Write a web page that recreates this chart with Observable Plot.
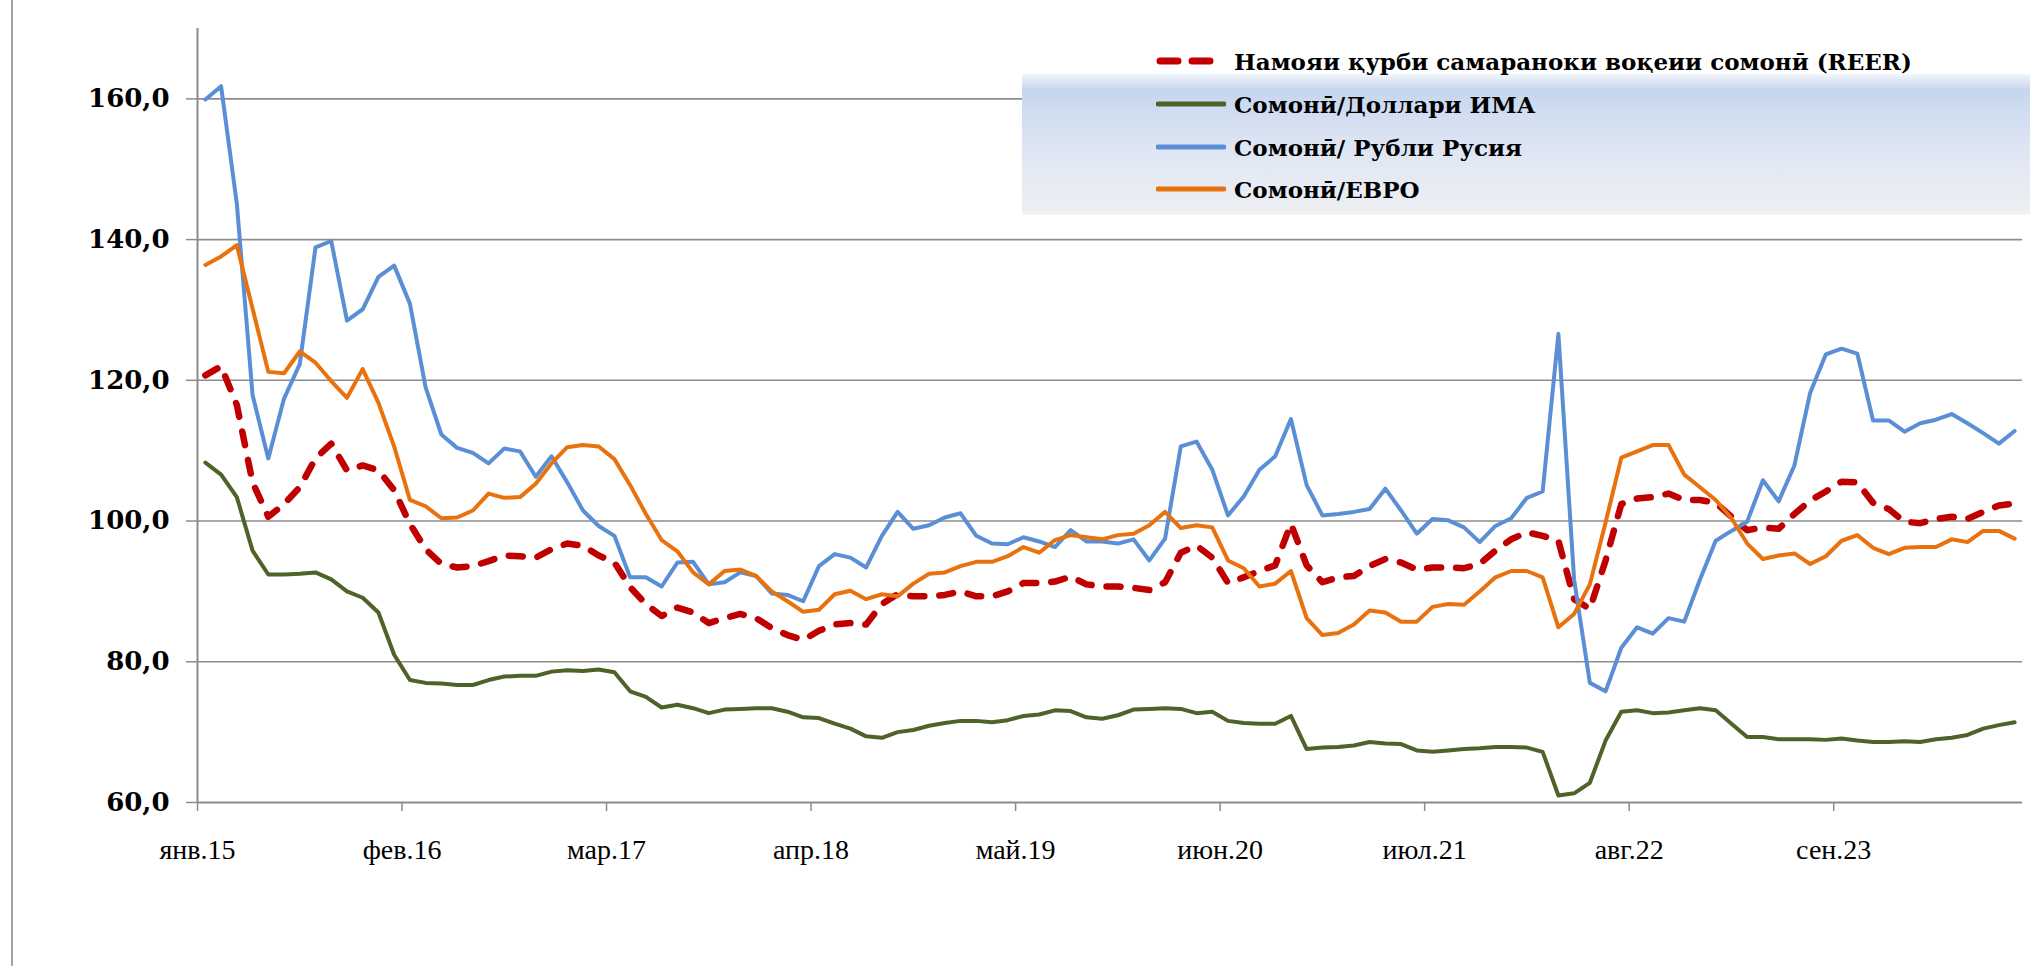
<!DOCTYPE html>
<html>
<head>
<meta charset="utf-8">
<script src="https://cdn.jsdelivr.net/npm/d3@7"></script>
<script src="https://cdn.jsdelivr.net/npm/@observablehq/plot@0.6"></script>
<style>
  html, body { margin: 0; padding: 0; background: #fff; }
  #wrap { position: relative; width: 2034px; height: 966px; overflow: hidden; }
  #border { position: absolute; left: 11px; top: 0; width: 2px; height: 966px; background: #a3a3a3; }
  #legendBox { position: absolute; left: 1022px; top: 74px; width: 1008px; height: 141px;
    background: linear-gradient(to bottom, #f3f6fb 0%, #c6d5ee 11%, #cfdcf1 25%, #dde5f3 50%, #e7ebf3 78%, #eceef2 96%, #f4f5f7 100%); }
  .entry { position: absolute; left: 1156px; height: 30px; display: flex; align-items: center;
    font-family: "DejaVu Serif", serif; font-weight: bold; font-size: 23px; color: #000; white-space: nowrap; }
  .entry svg { margin-right: 8px; }
</style>
</head>
<body>
<div id="wrap">
  <div id="border"></div>
  <div id="chart"></div>
  <div id="legendBox"></div>
  <div id="legend"></div>
</div>
<script>
// ---- data (monthly, Jan 2015 .. Aug 2024) ----
const tickLabels = ["янв.15","фев.16","мар.17","апр.18","май.19","июн.20","июл.21","авг.22","сен.23"];
const tickEvery = 13;
const yTicks = [60, 80, 100, 120, 140, 160];

const seriesNames = [
  "Намояи қурби самараноки воқеии сомонӣ (REER)",
  "Сомонӣ/Доллари ИМА",
  "Сомонӣ/ Рубли Русия",
  "Сомонӣ/ЕВРО"
];

const reer = [
  120.7,122.0,116.5,105.5,100.6,102.4,104.8,108.9,111.0,107.2,107.9,107.2,104.4,99.6,96.0,
  93.9,93.4,93.6,94.3,95.1,95.0,94.8,96.0,96.8,96.5,95.1,94.1,90.6,88.2,86.5,
  87.7,87.0,85.5,86.2,86.8,86.2,84.8,83.8,83.1,84.4,85.3,85.5,85.3,88.2,
  89.6,89.3,89.3,89.5,90.0,89.3,89.3,90.0,91.2,91.2,91.4,92.1,91.0,90.7,90.7,
  90.5,90.2,91.3,95.5,96.5,94.8,91.2,92.0,92.9,93.7,99.6,93.7,91.3,92.0,
  92.2,93.6,94.6,94.1,93.1,93.4,93.4,93.3,93.9,95.8,97.4,98.4,97.9,97.2,
  88.9,87.5,94.4,102.4,103.2,103.4,103.9,103.0,103.0,102.6,100.6,98.7,99.1,98.9,101.0,102.9,
  104.2,105.6,105.5,102.6,101.7,99.9,99.7,100.3,100.6,100.3,101.3,102.2,102.5
];
const usd = [
  108.3,106.6,103.4,95.8,92.4,92.4,92.5,92.7,91.7,90.0,89.1,87.0,81.0,77.4,77.0,
  76.9,76.7,76.7,77.4,77.9,78.0,78.0,78.6,78.8,78.7,78.9,78.5,75.8,75.0,73.5,
  73.9,73.4,72.7,73.2,73.3,73.4,73.4,72.9,72.1,72.0,71.2,70.5,69.4,69.2,
  70.0,70.3,70.9,71.3,71.6,71.6,71.4,71.7,72.3,72.5,73.1,73.0,72.1,71.9,72.4,
  73.2,73.3,73.4,73.3,72.7,72.9,71.6,71.3,71.2,71.2,72.3,67.6,67.8,67.9,
  68.1,68.6,68.4,68.3,67.4,67.2,67.4,67.6,67.7,67.9,67.9,67.8,67.2,61.0,
  61.3,62.8,68.8,72.9,73.1,72.7,72.8,73.1,73.4,73.1,71.2,69.3,69.3,69.0,69.0,69.0,
  68.9,69.1,68.8,68.6,68.6,68.7,68.6,69.0,69.2,69.6,70.5,71.0,71.4
];
const rub = [
  159.9,161.8,145.1,117.9,108.9,117.4,122.3,138.9,139.8,128.5,130.1,134.7,136.3,130.9,119.0,
  112.3,110.4,109.7,108.2,110.3,109.9,106.3,109.2,105.5,101.5,99.3,97.9,92.0,92.0,90.7,
  94.1,94.2,91.0,91.3,92.7,92.2,89.7,89.5,88.6,93.6,95.3,94.8,93.4,97.9,
  101.3,98.9,99.4,100.5,101.1,97.9,96.8,96.7,97.7,97.1,96.3,98.7,97.1,97.1,96.8,
  97.4,94.4,97.5,110.6,111.3,107.3,100.8,103.5,107.3,109.2,114.5,105.1,100.8,101.0,
  101.3,101.7,104.6,101.5,98.2,100.3,100.1,99.1,97.0,99.3,100.4,103.3,104.2,126.6,
  91.7,77.0,75.8,82.0,84.9,84.0,86.2,85.7,91.7,97.2,98.6,99.9,105.8,102.8,107.9,118.2,
  123.7,124.5,123.8,114.3,114.3,112.7,113.9,114.4,115.2,113.9,112.5,111.0,112.8
];
const eur = [
  136.4,137.6,139.2,130.2,121.2,121.0,124.1,122.5,119.9,117.5,121.6,116.8,110.6,103.0,102.1,
  100.4,100.5,101.5,103.9,103.3,103.4,105.3,108.2,110.5,110.8,110.6,108.8,105.1,101.0,97.3,
  95.7,92.7,91.0,92.9,93.1,92.2,90.0,88.6,87.1,87.4,89.6,90.1,88.9,89.6,
  89.3,91.1,92.5,92.7,93.6,94.2,94.2,95.0,96.3,95.5,97.3,98.0,97.7,97.4,98.0,
  98.2,99.4,101.3,99.0,99.4,99.1,94.4,93.3,90.7,91.1,92.9,86.2,83.8,84.1,
  85.3,87.3,87.0,85.7,85.7,87.8,88.2,88.1,90.0,92.0,92.9,92.9,92.0,84.9,
  86.8,91.0,99.8,109.0,109.9,110.8,110.8,106.6,104.8,103.0,100.4,96.8,94.6,95.1,95.4,93.9,
  95.0,97.2,98.0,96.2,95.3,96.2,96.3,96.3,97.4,97.0,98.6,98.6,97.5
];

const colors = ["#C00000", "#4F6228", "#5A8FD6", "#E8720E"];

const n = reer.length;
const rows = (vals, k) => vals.map((v, i) => ({i, v, s: seriesNames[k]}));
const tickPos = tickLabels.map((_, k) => k * tickEvery - 0.5);

const plot = Plot.plot({
  width: 2034,
  height: 966,
  marginLeft: 197,
  marginRight: 12,
  marginTop: 28,
  marginBottom: 164,
  style: {background: "transparent", overflow: "visible"},
  x: {domain: [-0.5, n - 0.5]},
  y: {domain: [60, 170]},
  marks: [
    Plot.ruleY(yTicks.slice(1), {stroke: "#8c8c8c", strokeWidth: 1.6, strokeOpacity: 1}),
    Plot.ruleX([-0.5], {y1: 60, y2: 170, stroke: "#8c8c8c", strokeWidth: 2, strokeOpacity: 1}),
    Plot.axisY({ticks: yTicks, tickSize: 11, tickPadding: 17, stroke: "#8c8c8c", strokeWidth: 1.5,
      tickFormat: d => d.toFixed(1).replace(".", ","),
      fontFamily: "DejaVu Serif", fontWeight: "bold", fontSize: 26, fill: "#000", label: null}),
    Plot.axisX({ticks: tickPos, tickSize: 9, tickPadding: 28, stroke: "#8c8c8c", strokeWidth: 1.5,
      tickFormat: d => tickLabels[Math.round((d + 0.5) / tickEvery)],
      fontFamily: "Liberation Serif", fontSize: 28, fill: "#000", label: null}),
    Plot.ruleY([60], {stroke: "#8c8c8c", strokeWidth: 2.2, strokeOpacity: 1}),
    Plot.line(rows(reer, 0), {x: "i", y: "v", stroke: colors[0], strokeWidth: 6.5,
      strokeDasharray: "14,15", strokeLinecap: "round", strokeLinejoin: "round"}),
    Plot.line(rows(usd, 1), {x: "i", y: "v", stroke: colors[1], strokeWidth: 4, strokeLinejoin: "round", strokeLinecap: "round"}),
    Plot.line(rows(rub, 2), {x: "i", y: "v", stroke: colors[2], strokeWidth: 4, strokeLinejoin: "round", strokeLinecap: "round"}),
    Plot.line(rows(eur, 3), {x: "i", y: "v", stroke: colors[3], strokeWidth: 4, strokeLinejoin: "round", strokeLinecap: "round"})
  ]
});
document.getElementById("chart").appendChild(plot);

// legend
const legend = document.getElementById("legend");
const rowY = [61, 104, 147, 189];
seriesNames.forEach((name, k) => {
  const e = document.createElement("div");
  e.className = "entry";
  e.style.top = (rowY[k] - 15) + "px";
  const sw = k === 0
    ? `<svg width="70" height="14"><line x1="4" y1="7" x2="66" y2="7" stroke="${colors[0]}" stroke-width="7" stroke-linecap="round" stroke-dasharray="18,14"/></svg>`
    : `<svg width="70" height="14"><line x1="2" y1="7" x2="68" y2="7" stroke="${colors[k]}" stroke-width="5" stroke-linecap="round"/></svg>`;
  e.innerHTML = sw + `<span>${name}</span>`;
  legend.appendChild(e);
});
</script>
</body>
</html>
